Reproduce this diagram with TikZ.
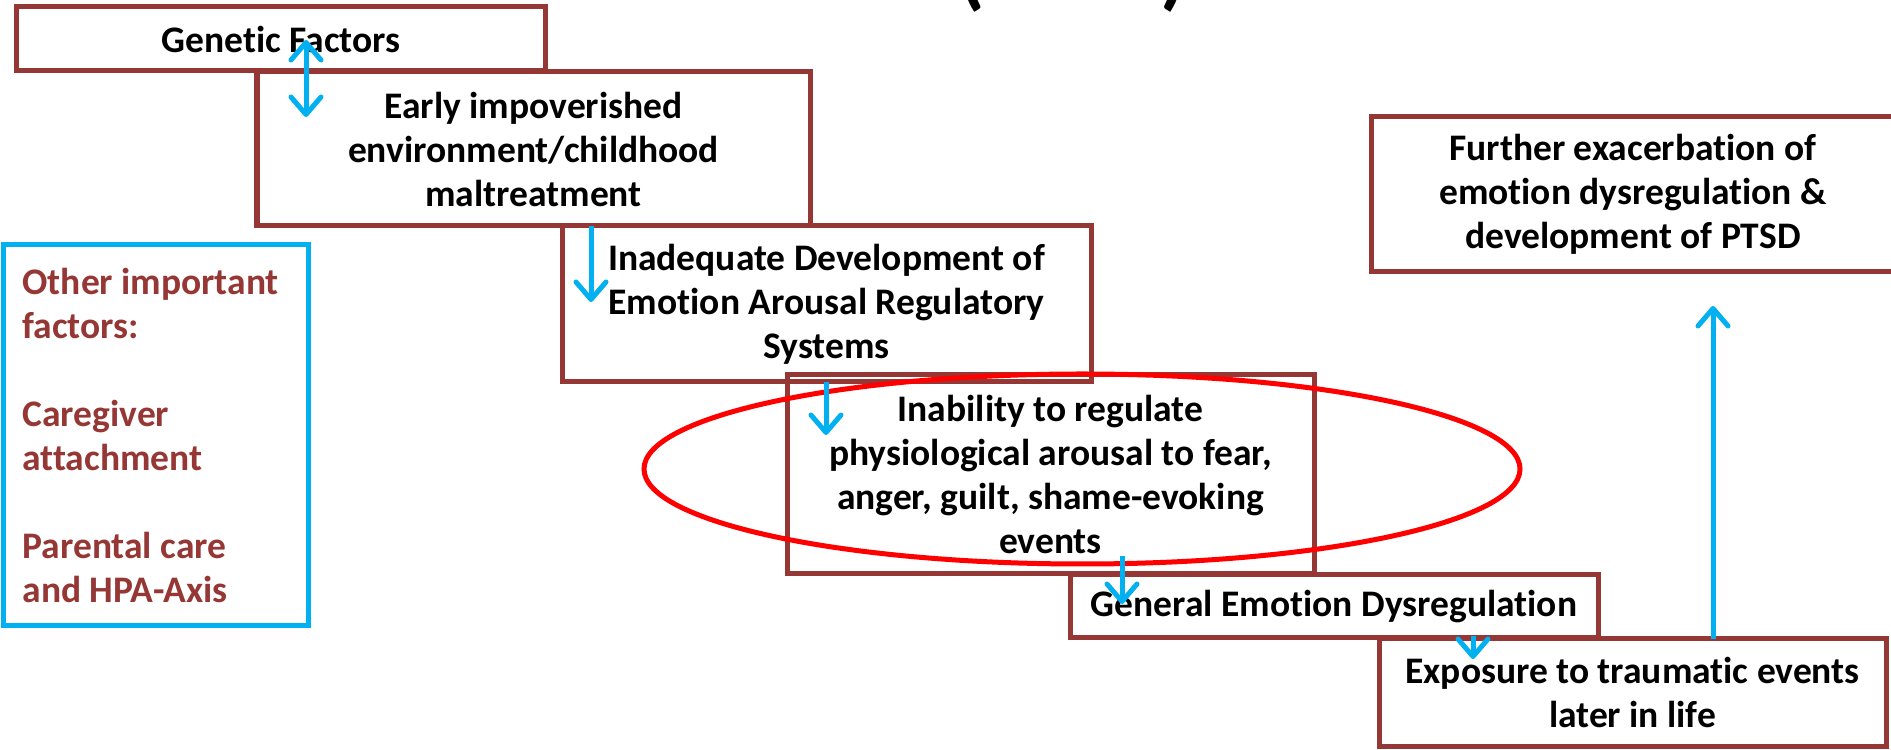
\documentclass[tikz,border=0pt]{standalone}
\usepackage{fontspec}
\setmainfont[Ligatures=NoCommon]{Carlito}
\usetikzlibrary{arrows.meta,shapes.geometric}
\definecolor{boxred}{RGB}{149,55,53}
\definecolor{cyanarrow}{RGB}{0,176,240}
\definecolor{ovalred}{RGB}{255,0,0}
\begin{document}
\begin{tikzpicture}[x=0.4pt,y=-0.4pt,
  box/.style={draw=boxred, line width=2pt, inner sep=0pt, align=center,
    font=\fontsize{15}{17.6}\selectfont\bfseries, text=black},
  sidebox/.style={draw=cyanarrow, line width=2pt, inner sep=0pt},
  sidetext/.style={inner sep=0pt, align=left, text=boxred,
    font=\fontsize{15}{17.6}\selectfont\bfseries},
  tip/.tip={Straight Barb[length=7pt,width=12pt,round]},
  flow/.style={draw=cyanarrow, line width=2pt, -tip},
  both/.style={draw=cyanarrow, line width=2pt, tip-tip},
  oval/.style={ellipse, draw=ovalred, line width=2pt, inner sep=0pt},
  paren/.style={inner sep=0pt, anchor=south, font=\fontsize{34}{40}\selectfont\bfseries}
]
\useasboundingbox (0,0) rectangle (1891,750);

% cut-off title fragments
\node[paren] (lp) at (972,13) {(};
\node[paren] (rp) at (1174,13) {)};

% boxes
\node[box, minimum width=211.2pt, minimum height=25.6pt] (gen) at (281,39) {Genetic Factors};
\node[box, minimum width=221.2pt, minimum height=61.6pt] (early) at (533.5,149)
  {Early impoverished\\environment/childhood\\maltreatment};
\node[box, minimum width=211.6pt, minimum height=62.4pt] (inad) at (826.5,304)
  {Inadequate Development of\\Emotion Arousal Regulatory\\Systems};
\node[box, minimum width=210.8pt, minimum height=79.6pt] (inab) at (1050.5,474.5)
  {Inability to regulate\\physiological arousal to fear,\\anger, guilt, shame-evoking\\events};
\node[box, minimum width=211.2pt, minimum height=25.2pt] (geno) at (1334,606.5)
  {General Emotion Dysregulation};
\node[box, minimum width=202.8pt, minimum height=43.2pt] (expo) at (1632.5,692.5)
  {Exposure to traumatic events\\later in life};
\node[box, minimum width=209.6pt, minimum height=62pt] (further) at (1633,194.5)
  {Further exacerbation of\\emotion dysregulation \&\\development of PTSD};

% side box
\node[sidebox, minimum width=121.6pt, minimum height=152pt] (side) at (156,435) {};
\node[sidetext, anchor=west] (sidet) at (22,435)
  {Other important\\factors:\\[17.6pt]Caregiver\\attachment\\[17.6pt]Parental care\\and HPA-Axis};

% red oval
\node[oval, minimum width=350.4pt, minimum height=76pt] (ring) at (1082,469) {};

% arrows
\coordinate (a1s) at (306,40);   \coordinate (a1e) at (306,117);
\coordinate (a2s) at (591,226);  \coordinate (a2e) at (591,302);
\coordinate (a3s) at (826,382);  \coordinate (a3e) at (826,435);
\coordinate (a4s) at (1122,556); \coordinate (a4e) at (1122,604);
\coordinate (a5s) at (1473,636); \coordinate (a5e) at (1473,659);
\coordinate (a6s) at (1713,639); \coordinate (a6e) at (1713,306);
\draw[both] (a1s) -- (a1e);
\draw[flow] (a2s) -- (a2e);
\draw[flow] (a3s) -- (a3e);
\draw[flow] (a4s) -- (a4e);
\draw[flow] (a5s) -- (a5e);
\draw[flow] (a6s) -- (a6e);
\end{tikzpicture}
\end{document}
